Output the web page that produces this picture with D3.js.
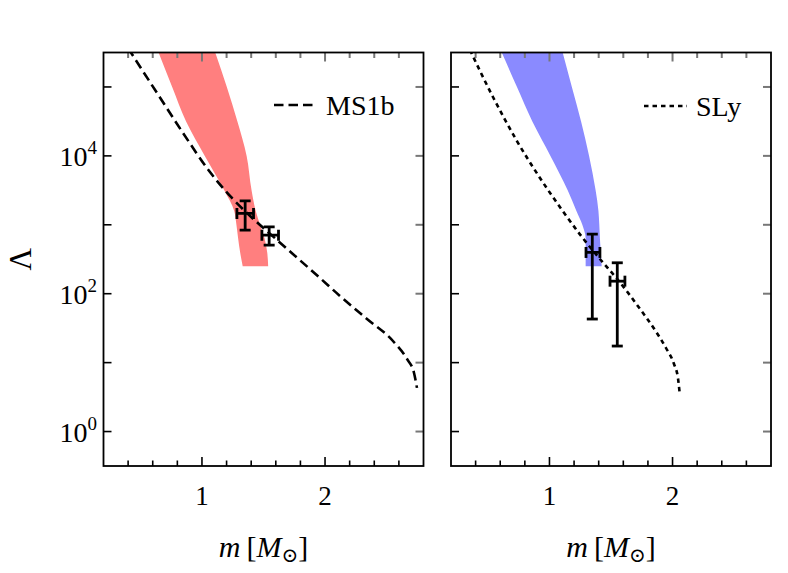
<!DOCTYPE html>
<html><head><meta charset="utf-8">
<script src="https://cdn.jsdelivr.net/npm/d3@7"></script>
<style>
body{margin:0;background:#fff}
svg text{font-family:"Liberation Serif","DejaVu Serif",serif}
</style>
</head><body>
<svg id="chart" width="788" height="573"></svg>
<script>
// ---------- data ----------
const ms1bMass   = [0.399, 0.635, 0.846, 1.065, 1.228, 1.366, 1.61, 1.959, 2.121, 2.341, 2.552, 2.666, 2.723, 2.747];
const ms1bLambda = [367000, 81700, 21500, 5830, 2620, 1480, 601, 169, 92.7, 43.0, 20.6, 11.3, 7.08, 4.30];

const slyMass   = [0.354, 0.541, 0.736, 0.923, 1.102, 1.264, 1.41, 1.557, 1.736, 1.857, 1.947, 2.012, 2.044, 2.057];
const slyLambda = [344000, 71500, 16400, 4780, 1640, 665, 319, 158, 60.0, 29.8, 16.3, 9.55, 5.98, 3.75];

const bandLambda = [400000, 100000, 31623, 10000, 3162, 1585, 1000, 631, 398, 251];
const redBandLo  = [0.625, 0.758, 0.871, 1.023, 1.181, 1.262, 1.28, 1.294, 1.31, 1.331];
const redBandHi  = [1.088, 1.202, 1.288, 1.363, 1.403, 1.437, 1.472, 1.509, 1.53, 1.538];
const blueBandLo = [0.587, 0.736, 0.861, 1.008, 1.148, 1.219, 1.267, 1.294, 1.294, 1.294];
const blueBandHi = [1.092, 1.182, 1.257, 1.322, 1.375, 1.398, 1.405, 1.41, 1.417, 1.424];

const leftPtMass     = [1.351, 1.546];
const leftPtMassLo   = [1.284, 1.487];
const leftPtMassHi   = [1.419, 1.622];
const leftPtLambda   = [1460, 708];
const leftPtLambdaLo = [838, 507];
const leftPtLambdaHi = [2230, 935];

const rightPtMass     = [1.348, 1.551];
const rightPtMassLo   = [1.297, 1.492];
const rightPtMassHi   = [1.41, 1.613];
const rightPtLambda   = [397, 152];
const rightPtLambdaLo = [42.9, 17.4];
const rightPtLambdaHi = [733, 281];

const xDomain = [0.2, 2.8];
const yDomain = [Math.pow(10, -0.5), Math.pow(10, 5.5)];
const xMajorTicks = [1, 2];
const xMinorTicks = [0.4, 0.6, 0.8, 1.2, 1.4, 1.6, 1.8, 2.2, 2.4, 2.6];
const yTicks = [1, 10, 100, 1000, 10000, 100000];
const yLabelTicks = [{v: 1, e: "0"}, {v: 100, e: "2"}, {v: 10000, e: "4"}];
const legendNames = ["MS1b", "SLy"];

// ---------- layout ----------
const svg = d3.select("#chart");
const yTop = 52.5, yBottom = 466;
const panelsX = [[103.5, 423.5], [451, 771]];

const panels = [
  {lo: redBandLo, hi: redBandHi, fill: "#ff7f7f", mass: ms1bMass, lam: ms1bLambda, dash: "9.5,5",
   pm: leftPtMass, pmLo: leftPtMassLo, pmHi: leftPtMassHi, pl: leftPtLambda, plLo: leftPtLambdaLo, plHi: leftPtLambdaHi,
   name: legendNames[0]},
  {lo: blueBandLo, hi: blueBandHi, fill: "#8a8aff", mass: slyMass, lam: slyLambda, dash: "4.5,4",
   pm: rightPtMass, pmLo: rightPtMassLo, pmHi: rightPtMassHi, pl: rightPtLambda, plLo: rightPtLambdaLo, plHi: rightPtLambdaHi,
   name: legendNames[1]}
];

const y = d3.scaleLog().domain(yDomain).range([yBottom, yTop]);

panels.forEach((p, i) => {
  const [x0, x1] = panelsX[i];
  const x = d3.scaleLinear().domain(xDomain).range([x0, x1]);
  const g = svg.append("g");
  const clipId = "clip" + i;
  svg.append("clipPath").attr("id", clipId).append("rect")
    .attr("x", x0).attr("y", yTop).attr("width", x1 - x0).attr("height", yBottom - yTop);
  const plot = g.append("g").attr("clip-path", `url(#${clipId})`);

  // band
  const bandData = bandLambda.map((l, k) => ({l, lo: p.lo[k], hi: p.hi[k]}));
  plot.append("path").datum(bandData)
    .attr("fill", p.fill)
    .attr("d", d3.area().y(d => y(d.l)).x0(d => x(d.lo)).x1(d => x(d.hi)).curve(d3.curveMonotoneY));

  // curve
  const lineData = p.mass.map((m, k) => ({m, l: p.lam[k]}));
  plot.append("path").datum(lineData)
    .attr("fill", "none").attr("stroke", "#000").attr("stroke-width", 2.6)
    .attr("stroke-dasharray", p.dash)
    .attr("d", d3.line().x(d => x(d.m)).y(d => y(d.l)).curve(d3.curveMonotoneX));

  // error bars
  const cap = 5.5;
  p.pm.forEach((m, k) => {
    const eb = plot.append("g").attr("stroke", "#000").attr("stroke-width", 2.8);
    const cx = x(m), cy = y(p.pl[k]);
    eb.append("line").attr("x1", cx).attr("x2", cx).attr("y1", y(p.plLo[k])).attr("y2", y(p.plHi[k]));
    eb.append("line").attr("x1", x(p.pmLo[k])).attr("x2", x(p.pmHi[k])).attr("y1", cy).attr("y2", cy);
    [p.plLo[k], p.plHi[k]].forEach(v => eb.append("line")
      .attr("x1", cx - cap).attr("x2", cx + cap).attr("y1", y(v)).attr("y2", y(v)));
    [p.pmLo[k], p.pmHi[k]].forEach(v => eb.append("line")
      .attr("x1", x(v)).attr("x2", x(v)).attr("y1", cy - cap).attr("y2", cy + cap));
  });

  // ticks on all four sides, pointing inward
  const tickG = g.append("g");
  xMajorTicks.forEach(v => {
    tickG.append("line").attr("x1", x(v)).attr("x2", x(v)).attr("y1", yBottom).attr("y2", yBottom - 9).attr("stroke", "#000").attr("stroke-width", 1.6);
    tickG.append("line").attr("x1", x(v)).attr("x2", x(v)).attr("y1", yTop).attr("y2", yTop + 9).attr("stroke", "#777").attr("stroke-width", 2);
  });
  xMinorTicks.forEach(v => {
    tickG.append("line").attr("x1", x(v)).attr("x2", x(v)).attr("y1", yBottom).attr("y2", yBottom - 5.5).attr("stroke", "#000").attr("stroke-width", 1.6);
    tickG.append("line").attr("x1", x(v)).attr("x2", x(v)).attr("y1", yTop).attr("y2", yTop + 5.5).attr("stroke", "#777").attr("stroke-width", 2);
  });
  yTicks.forEach(v => {
    tickG.append("line").attr("x1", x0).attr("x2", x0 + 8).attr("y1", y(v)).attr("y2", y(v)).attr("stroke", "#000").attr("stroke-width", 1.6);
    tickG.append("line").attr("x1", x1).attr("x2", x1 - 8).attr("y1", y(v)).attr("y2", y(v)).attr("stroke", "#777").attr("stroke-width", 2);
  });

  // frame
  g.append("rect").attr("x", x0).attr("y", yTop).attr("width", x1 - x0).attr("height", yBottom - yTop)
    .attr("fill", "none").attr("stroke", "#000").attr("stroke-width", 1.8);

  // x tick labels
  xMajorTicks.forEach(v => {
    g.append("text").attr("x", x(v)).attr("y", 505).attr("text-anchor", "middle")
      .attr("font-size", 27).text(String(v));
  });

  // x label
  const xl = g.append("text").attr("x", (x0 + x1) / 2).attr("y", 557).attr("text-anchor", "middle").attr("font-size", 30);
  xl.append("tspan").attr("font-style", "italic").text("m");
  xl.append("tspan").text("\u2009[");
  xl.append("tspan").attr("font-style", "italic").text("M");
  xl.append("tspan").attr("font-size", 20).attr("dy", 5).text("\u2299");
  xl.append("tspan").attr("dy", -5).text("]");

  // legend
  const ly = i === 0 ? 105 : 106;
  const lx0 = i === 0 ? 274 : 644;
  g.append("line").attr("x1", lx0).attr("x2", lx0 + 43).attr("y1", ly).attr("y2", ly)
    .attr("stroke", "#000").attr("stroke-width", 2.6).attr("stroke-dasharray", p.dash);
  g.append("text").attr("x", lx0 + 52).attr("y", ly + 10).attr("font-size", 28).text(p.name);

  // y tick labels (left panel only)
  if (i === 0) {
    yLabelTicks.forEach(t => {
      const tt = g.append("text").attr("x", 97).attr("y", y(t.v) + 10).attr("text-anchor", "end").attr("font-size", 28);
      tt.append("tspan").text("10");
      tt.append("tspan").attr("font-size", 19).attr("dy", -12).text(t.e);
    });
    g.append("text").attr("transform", `translate(31,${(yTop + yBottom) / 2}) rotate(-90)`)
      .attr("text-anchor", "middle").attr("font-size", 31).text("\u039B");
  }
});
</script>
</body></html>
